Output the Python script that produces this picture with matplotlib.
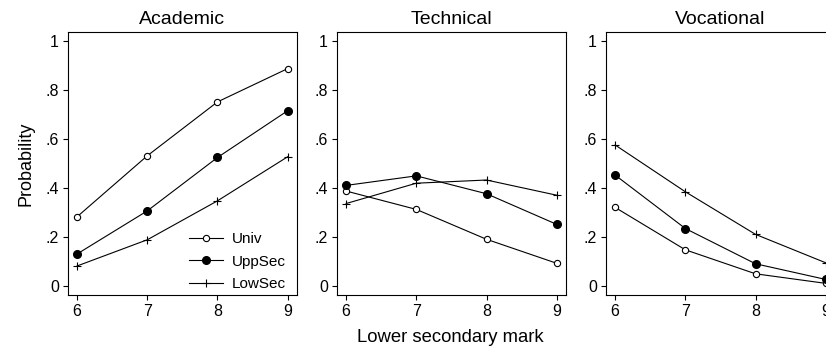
import matplotlib
matplotlib.use('Agg')
from matplotlib import pyplot as plt

plt.rcParams['font.family'] = ['Liberation Sans', 'DejaVu Sans']

marks = [6, 7, 8, 9]
panels = ['Academic', 'Technical', 'Vocational']

# probabilities, one list per panel
univ = {'Academic': [0.283, 0.532, 0.752, 0.888],
        'Technical': [0.388, 0.313, 0.191, 0.093],
        'Vocational': [0.321, 0.148, 0.050, 0.011]}
uppsec = {'Academic': [0.131, 0.307, 0.525, 0.716],
          'Technical': [0.411, 0.450, 0.377, 0.252],
          'Vocational': [0.453, 0.235, 0.091, 0.027]}
lowsec = {'Academic': [0.082, 0.189, 0.348, 0.528],
          'Technical': [0.337, 0.420, 0.433, 0.371],
          'Vocational': [0.576, 0.385, 0.211, 0.095]}

yticks = [0, 0.2, 0.4, 0.6, 0.8, 1]
yticklabels = ['0', '.2', '.4', '.6', '.8', '1']

fig = plt.figure(figsize=(8.26, 3.53), dpi=100)
lefts = [0.0823, 0.408, 0.7337]

for i, name in enumerate(panels):
    ax = fig.add_axes([lefts[i], 0.164, 0.277, 0.745])
    ax.plot(marks, univ[name], color='k', lw=0.8, marker='o', ms=4.5,
            mfc='white', mec='k', mew=0.8, label='Univ')
    ax.plot(marks, uppsec[name], color='k', lw=0.8, marker='o', ms=5.5,
            mfc='k', mec='k', label='UppSec')
    ax.plot(marks, lowsec[name], color='k', lw=0.8, marker='+', ms=6,
            mew=0.8, label='LowSec')
    ax.set_xlim(5.87, 9.13)
    ax.set_ylim(-0.037, 1.037)
    ax.set_xticks(marks)
    ax.set_yticks(yticks)
    ax.set_yticklabels(yticklabels)
    ax.tick_params(direction='out', length=3.6, width=0.8, labelsize=11.5, pad=3)
    for s in ax.spines.values():
        s.set_linewidth(0.8)
    ax.set_title(name, fontsize=14, pad=6)
    if i == 0:
        ax.set_ylabel('Probability', fontsize=13, labelpad=8)
        ax.legend(loc='lower right', frameon=False, fontsize=11,
                  handlelength=2.2, labelspacing=0.55, borderaxespad=0.3,
                  handletextpad=0.6, bbox_to_anchor=(1.0, -0.025))

fig.text(0.545, 0.03, 'Lower secondary mark', ha='center', fontsize=13.3)

plt.savefig('out.png', dpi=100)
